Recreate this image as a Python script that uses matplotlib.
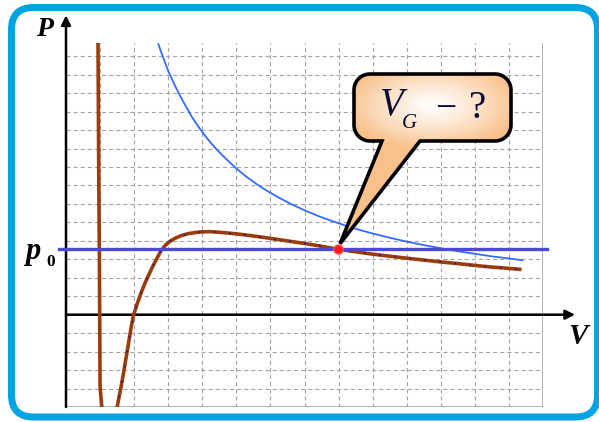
import numpy as np
import matplotlib
matplotlib.use("Agg")
import matplotlib.pyplot as plt
from matplotlib.patches import FancyBboxPatch, PathPatch
from matplotlib.path import Path

W, H, DPI = 599, 422, 100

# Axis extents in grid cells
V_MAX = 14
P_MIN, P_MAX = -5, 14.72
V_ARROW, P_ARROW = 14.94, 16.22

# Saturated-vapour pressure and the gas volume where the isotherm meets it
p0 = 3.55
V_G = 7.97

# Van der Waals isotherm (grid cells)
vdw_V = [0.94, 0.96, 0.98, 1.00, 1.05, 1.10, 1.20, 1.30, 1.40, 1.46,
         1.50, 1.556, 1.614, 1.673, 1.732, 1.79, 1.85, 1.908, 1.975,
         2.084, 2.20, 2.318, 2.436, 2.554, 2.67, 2.788, 2.906, 3.052,
         3.199, 3.375, 3.58, 3.786, 3.99, 4.197, 4.40, 4.61, 5.00, 5.40,
         5.80, 6.20, 6.60, 7.00, 7.40, 7.97, 8.50, 9.00, 9.50, 10.00,
         10.50, 11.00, 11.50, 12.00, 12.50, 13.00, 13.37]
vdw_P = [14.72, 8.0, 3.0, -3.9, -5.0, -5.8, -6.3, -6.4, -6.0, -5.5,
         -5.01, -4.47, -3.93, -3.33, -2.68, -2.03, -1.38, -0.73, -0.07,
         0.57, 1.16, 1.71, 2.19, 2.65, 3.06, 3.47, 3.74, 3.98,
         4.14, 4.28, 4.39, 4.45, 4.49, 4.50, 4.48, 4.45, 4.38, 4.29,
         4.19, 4.08, 3.97, 3.86, 3.74, 3.55, 3.41, 3.28, 3.17, 3.06,
         2.96, 2.86, 2.77, 2.67, 2.58, 2.51, 2.45]

# Ideal-gas isotherm (grid cells)
iso_V = [2.71, 2.80, 2.90, 3.00, 3.10, 3.20, 3.35, 3.50, 3.70, 3.90, 4.10,
         4.30, 4.50, 4.75, 5.00, 5.30, 5.60, 5.90, 6.25, 6.60, 7.00, 7.40,
         7.80, 8.20, 8.60, 9.00, 9.50, 10.00, 10.50, 11.00, 11.50, 12.00,
         12.50, 13.00, 13.39]
iso_P = [14.66, 14.20, 13.70, 13.20, 12.80, 12.40, 11.85, 11.35, 10.70,
         10.15, 9.65, 9.20, 8.80, 8.35, 7.92, 7.47, 7.07, 6.71, 6.34, 6.00,
         5.66, 5.35, 5.08, 4.83, 4.60, 4.40, 4.17, 3.96, 3.77, 3.60, 3.44,
         3.30, 3.16, 3.05, 2.95]

fig = plt.figure(figsize=(W / DPI, H / DPI), dpi=DPI)
fig.patch.set_facecolor("white")


def fx(px):
    return px / W


def fy(py):
    return 1 - py / H


# Main plotting area
ax = fig.add_axes([fx(66), fy(407), fx(543) - fx(66), fy(43) - fy(407)])
ax.set_xlim(0, V_MAX)
ax.set_ylim(P_MIN, P_MAX)
ax.axis("off")
ax.set_zorder(1)

grid_kw = dict(color="#a2a2a2", lw=0.8, dashes=(3.6, 2.8), zorder=1)
for k in range(1, V_MAX):
    ax.plot([k, k], [P_MIN, P_MAX], **grid_kw)
for j in range(P_MIN + 1, 15):
    if j != 0:
        ax.plot([0, V_MAX], [j, j], **grid_kw)
ax.plot([V_MAX, V_MAX], [P_MIN, P_MAX], color="#a8a8a8", lw=1.2, zorder=1)
ax.plot([0, V_MAX], [P_MIN, P_MIN], color="#a8a8a8", lw=1.2, zorder=1)

# Coordinate axes with arrows
arrow_kw = dict(arrowstyle="-|>", lw=1.8, color="black", mutation_scale=14,
                shrinkA=0, shrinkB=0)
ax.annotate("", xy=(0, P_ARROW), xytext=(0, P_MIN), arrowprops=arrow_kw,
            annotation_clip=False, zorder=3)
ax.annotate("", xy=(V_ARROW, 0), xytext=(0, 0), arrowprops=arrow_kw,
            annotation_clip=False, zorder=3)

# Curves
ax.plot(iso_V, iso_P, color="#336cff", lw=1.3, zorder=4)
ax.plot(vdw_V, vdw_P, color="#9c3c0c", lw=2.6, zorder=5,
        solid_capstyle="butt", solid_joinstyle="round")
ax.plot(vdw_V[11:], vdw_P[11:], color="#1c1c8c", lw=1.3,
        dashes=(0.9, 7.5), zorder=6)
ax.plot([-0.2, 14.12], [p0, p0], color="#4a4ad6", lw=2.4, zorder=6,
        clip_on=False)
ax.plot([V_G], [p0], "o", ms=6.5, color="#ff1a1a", mec="#ff4a4a", zorder=8)

# Overlay for frame, labels and callout (pixel coordinates, y downwards)
ov = fig.add_axes([0, 0, 1, 1])
ov.set_xlim(0, W)
ov.set_ylim(H, 0)
ov.axis("off")
ov.patch.set_alpha(0)
ov.set_zorder(2)

frame = FancyBboxPatch((11.5, 7.5), 586, 409.5,
                       boxstyle="round,pad=0,rounding_size=22",
                       fc="none", ec="#00a3e4", lw=5.0)
ov.add_patch(frame)

ov.text(45, 29, "P", fontfamily="Liberation Serif", fontweight="bold",
        fontstyle="italic", fontsize=20, ha="center", va="center")
ov.text(578, 337, "V", fontfamily="Liberation Serif", fontweight="bold",
        fontstyle="italic", fontsize=21, ha="center", va="center")
ov.text(25, 259, "p", fontfamily="Liberation Serif", fontweight="bold",
        fontstyle="italic", fontsize=22, ha="left", va="baseline")
ov.text(46, 266, "0", fontfamily="Liberation Serif", fontweight="bold",
        fontsize=12.5, ha="left", va="baseline")

# Callout bubble pointing at (V_G, p0)
dx, dy = ax.transData.transform((V_G, p0))
tip = (dx + 2.5, H - dy - 5.5)
x0, x1, y0, y1, r = 354, 511, 74, 141, 16
tl, tr = 382, 420


def arc(cx, cy, a0, a1, n=14):
    t = np.radians(np.linspace(a0, a1, n))
    return list(zip(cx + r * np.cos(t), cy + r * np.sin(t)))


pts = []
pts += arc(x0 + r, y0 + r, 180, 270)
pts += arc(x1 - r, y0 + r, 270, 360)
pts += arc(x1 - r, y1 - r, 0, 90)
pts += [(tr, y1), tip, (tl, y1)]
pts += arc(x0 + r, y1 - r, 90, 180)
pts.append(pts[0])
codes = [Path.MOVETO] + [Path.LINETO] * (len(pts) - 2) + [Path.CLOSEPOLY]
bubble_path = Path(pts, codes)

yy, xx = np.mgrid[0:H, 0:W]
dist = np.sqrt(((xx - 432) / 88.0) ** 2 + ((yy - 105) / 44.0) ** 2)
t = np.clip(dist, 0, 1) ** 1.2
c_in = np.array([1.0, 1.0, 1.0])
c_out = np.array([0.976, 0.757, 0.545])
img = c_in[None, None, :] * (1 - t[..., None]) + c_out[None, None, :] * t[..., None]
im = ov.imshow(img, extent=(0, W, H, 0), origin="upper", zorder=9,
               interpolation="bilinear")
fill = PathPatch(bubble_path, fc="none", ec="none", transform=ov.transData)
ov.add_patch(fill)
im.set_clip_path(fill)
ov.add_patch(PathPatch(bubble_path, fc="none", ec="black", lw=2.6,
                       joinstyle="miter", zorder=10))
ov.set_xlim(0, W)
ov.set_ylim(H, 0)

txt_kw = dict(fontfamily="Liberation Serif", color="#0c0c36", zorder=11)
ov.text(380, 115, "V", fontstyle="italic", fontsize=28, ha="left",
        va="baseline", **txt_kw)
ov.text(402, 128, "G", fontstyle="italic", fontsize=15, ha="left",
        va="baseline", **txt_kw)
ov.text(446, 106, "\u2212", fontsize=27, ha="center", va="center_baseline",
        **txt_kw)
ov.text(469, 118, "?", fontsize=28, ha="left", va="baseline", **txt_kw)

fig.savefig("out.png", dpi=DPI)
